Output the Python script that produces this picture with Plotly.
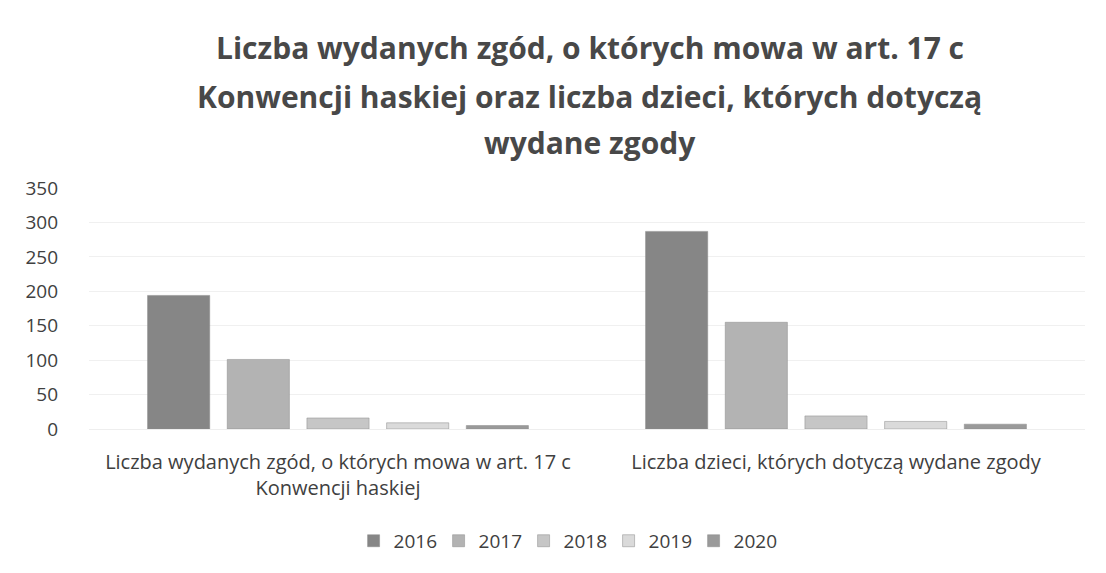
import plotly.graph_objects as go

categories = ["Liczba wydanych zgód, o których mowa w art. 17 c<br>Konwencji haskiej",
              "Liczba dzieci, których dotyczą wydane zgody"]
years = ["2016", "2017", "2018", "2019", "2020"]
values = {
    "2016": [194, 287],
    "2017": [101, 155],
    "2018": [16, 19],
    "2019": [9, 11],
    "2020": [5, 7],
}
colors = {
    "2016": "#868686",
    "2017": "#b3b3b3",
    "2018": "#c6c6c6",
    "2019": "#dadada",
    "2020": "#9a9a9a",
}
title_lines = ["Liczba wydanych zgód, o których mowa w art. 17 c",
               "Konwencji haskiej oraz liczba dzieci, których dotyczą",
               "wydane zgody"]
title_pos = [1.581, 1.378, 1.187]

FONT = "Open Sans, Liberation Sans, sans-serif"

fig = go.Figure()
for y in years:
    fig.add_trace(go.Bar(
        x=categories, y=values[y], name=y,
        marker=dict(color=colors[y], line=dict(color="#8a8a8a", width=0.5)),
    ))

for line, py in zip(title_lines, title_pos):
    fig.add_annotation(text=line, xref="paper", yref="paper", x=0.503, y=py,
                       xanchor="center", yanchor="middle", showarrow=False,
                       font=dict(family=FONT, size=30, color="#484848", weight="bold"))

fig.update_layout(
    width=1106, height=573,
    paper_bgcolor="white", plot_bgcolor="white",
    margin=dict(l=81, r=29, t=180, b=152, autoexpand=False),
    barmode="group", bargap=0.2, bargroupgap=0.22,
    font=dict(family=FONT, color="#404040"),
    legend=dict(orientation="h", x=0.479, xanchor="center", yref="container", y=0.07, yanchor="middle",
                font=dict(size=19, color="#404040"), traceorder="normal",
                itemwidth=30, entrywidth=40, entrywidthmode="pixels"),
    showlegend=True,
)
fig.update_yaxes(range=[0, 350], dtick=50, showgrid=True, gridcolor="#f0f0f0",
                 tickfont=dict(size=19, color="#404040"), zeroline=False, ticks="", ticklabelstandoff=30)
fig.update_xaxes(tickfont=dict(size=20, color="#404040"), showline=True, linecolor="#eeeeee",
                 ticklabelstandoff=15)

fig.write_html("out.html")
